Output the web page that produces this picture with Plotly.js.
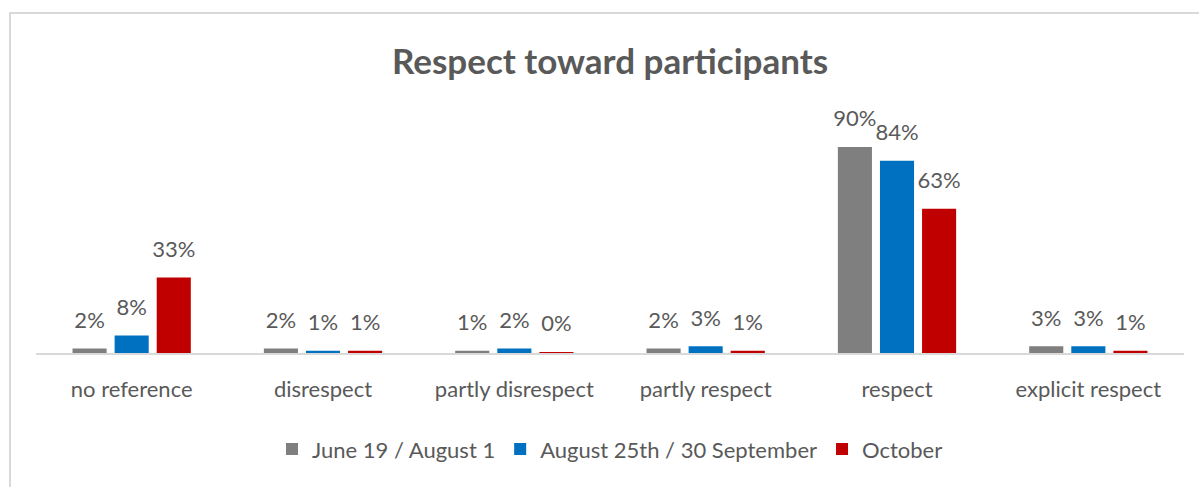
<!DOCTYPE html>
<html>
<head>
<meta charset="utf-8">
<script src="https://cdn.plot.ly/plotly-3.0.1.min.js"></script>
<style>
  html, body { margin: 0; padding: 0; background: #fff; }
  #wrap { position: relative; width: 1199px; height: 487px; overflow: hidden; }
  #chart { position: absolute; left: 0; top: 0; width: 1199px; height: 487px; }
  #frame { position: absolute; left: 9px; top: 12px; width: 1200px; height: 500px;
           border: 2px solid #d9d9d9; box-sizing: border-box; pointer-events: none; }
</style>
</head>
<body>
<div id="wrap">
  <div id="chart"></div>
  <div id="frame"></div>
</div>
<script>
const categories = ["no reference", "disrespect", "partly disrespect", "partly respect", "respect", "explicit respect"];
const seriesNames = ["June 19 / August 1", "August 25th / 30 September", "October"];
const juneAugust = [2, 2, 1, 2, 90, 3];
const augustSeptember = [7.6, 1, 2, 3, 84, 3];
const october = [33, 1, 0.4, 1, 63, 1];
const colors = ["#7f7f7f", "#0070c0", "#c00000"];

const seriesValues = [juneAugust, augustSeptember, october];
const textColor = "#595959";
const fontFamily = "Lato, 'Open Sans', sans-serif";
const labelLift = 5.5; // gap between bar top and its value label, in axis units

const traces = [];
seriesValues.forEach((vals, i) => {
  traces.push({
    type: "bar",
    name: seriesNames[i],
    x: categories,
    y: vals,
    offsetgroup: String(i),
    marker: { color: colors[i] },
    hoverinfo: "skip"
  });
});
seriesValues.forEach((vals, i) => {
  traces.push({
    type: "bar",
    name: seriesNames[i] + " labels",
    showlegend: false,
    x: categories,
    base: vals,
    y: vals.map(() => labelLift),
    offsetgroup: String(i),
    marker: { color: "rgba(0,0,0,0)" },
    text: vals.map(v => Math.round(v) + "%"),
    textposition: "outside",
    constraintext: "none",
    cliponaxis: false,
    textfont: { family: fontFamily, size: 22, color: textColor },
    hoverinfo: "skip"
  });
});

const layout = {
  width: 1199,
  height: 487,
  margin: { l: 36, r: 15, t: 124, b: 134 },
  paper_bgcolor: "#ffffff",
  plot_bgcolor: "#ffffff",
  barmode: "group",
  bargap: 0.34,
  bargroupgap: 0.19,
  title: {
    text: "<b>Respect toward participants</b>",
    font: { family: fontFamily, size: 35, color: textColor },
    x: 0.5, xref: "paper", xanchor: "center",
    y: 0.873, yref: "container", yanchor: "middle"
  },
  xaxis: {
    showline: true, linecolor: "#d9d9d9", linewidth: 2,
    showgrid: false, zeroline: false, ticks: "",
    ticklabelstandoff: 16,
    tickfont: { family: fontFamily, size: 22, color: textColor }
  },
  yaxis: {
    range: [0, 100], visible: false, showgrid: false, zeroline: false
  },
  showlegend: true,
  legend: {
    orientation: "h",
    x: 0.5, xanchor: "center",
    y: -0.42, yanchor: "middle",
    font: { family: fontFamily, size: 22, color: textColor },
    itemclick: false, itemdoubleclick: false
  }
};

Plotly.newPlot("chart", traces, layout, { displayModeBar: false, staticPlot: true });
</script>
</body>
</html>
